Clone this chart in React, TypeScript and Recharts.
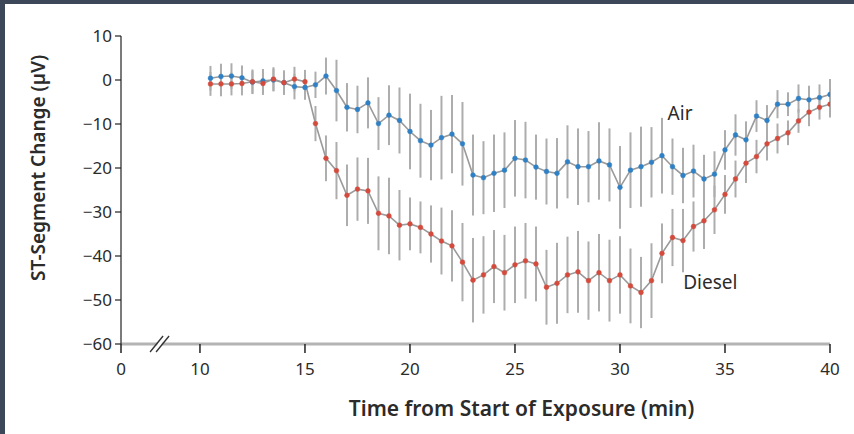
import { LineChart, Line, XAxis, YAxis, ErrorBar, ReferenceDot } from 'recharts';

// minutes from start of exposure, one reading every 30 s
const minutes = [
  10.5, 11, 11.5, 12, 12.5, 13, 13.5, 14, 14.5, 15,
  15.5, 16, 16.5, 17, 17.5, 18, 18.5, 19, 19.5, 20,
  20.5, 21, 21.5, 22, 22.5, 23, 23.5, 24, 24.5, 25,
  25.5, 26, 26.5, 27, 27.5, 28, 28.5, 29, 29.5, 30,
  30.5, 31, 31.5, 32, 32.5, 33, 33.5, 34, 34.5, 35,
  35.5, 36, 36.5, 37, 37.5, 38, 38.5, 39, 39.5, 40,
];

const air = [
  0.4, 0.8, 0.9, 0.5, -0.5, -0.2, 0, -0.6, -1.5, -1.7,
  -1.1, 0.9, -2.4, -6.2, -6.7, -5.2, -9.9, -8.0, -9.2, -11.7,
  -13.8, -14.8, -13.1, -12.3, -14.5, -21.6, -22.2, -21.2, -20.5, -17.8,
  -18.2, -19.8, -20.8, -21.2, -18.6, -19.7, -19.7, -18.4, -19.3, -24.4,
  -20.5, -19.7, -18.7, -17.2, -19.7, -21.7, -20.7, -22.5, -21.4, -15.9,
  -12.5, -13.6, -8.2, -9.2, -5.5, -5.5, -4.2, -4.5, -4.0, -3.3,
];

const diesel = [
  -0.9, -0.9, -0.9, -0.8, -0.4, -0.8, 0.2, -0.6, 0.2, -0.4,
  -9.9, -17.8, -20.6, -26.2, -24.8, -25.2, -30.3, -30.9, -33.0, -32.7,
  -33.5, -35.0, -36.6, -37.7, -41.4, -45.5, -44.3, -42.4, -43.8, -42.0,
  -41.1, -41.8, -47.1, -46.2, -44.3, -43.6, -45.6, -43.8, -45.6, -44.3,
  -46.8, -48.3, -45.6, -39.4, -35.8, -36.5, -33.3, -32.0, -29.5, -26.0,
  -22.5, -18.9, -17.4, -14.5, -13.3, -12.0, -9.3, -7.3, -6.2, -5.5,
];

const airErr = [
  2.8, 2.9, 2.9, 2.8, 2.6, 2.7, 2.6, 2.8, 2.9, 2.8,
  3.0, 4.2, 7.0, 5.5, 5.4, 5.8, 6.0, 6.8, 7.5, 8.6,
  8.4, 8.0, 9.5, 8.9, 9.5, 9.2, 8.3, 8.8, 8.6, 8.7,
  8.7, 7.4, 7.5, 8.0, 8.3, 8.7, 8.1, 8.8, 8.3, 9.4,
  8.6, 9.1, 8.0, 8.6, 6.4, 6.3, 6.0, 5.5, 5.2, 4.5,
  4.7, 4.2, 3.6, 3.5, 3.2, 2.7, 3.2, 3.2, 3.0, 3.5,
];

const dieselErr = [
  2.7, 2.8, 2.6, 2.7, 2.8, 2.6, 2.7, 2.6, 2.8, 2.7,
  4.0, 5.2, 6.5, 7.0, 7.2, 7.5, 8.4, 8.7, 8.0, 6.0,
  5.9, 6.5, 7.6, 8.1, 8.9, 9.6, 8.8, 8.3, 8.6, 8.7,
  8.6, 8.5, 8.5, 9.2, 8.7, 9.3, 8.9, 8.8, 9.3, 8.8,
  8.5, 8.1, 8.5, 6.8, 6.5, 7.2, 5.7, 6.4, 5.5, 4.4,
  4.2, 4.5, 3.8, 3.8, 3.4, 2.8, 2.7, 3.2, 2.8, 3.0,
];

// the axis is broken between 0 and 10 min; 0 is drawn at this position
const ZERO_POS = 6.24;
const xTicks = [ZERO_POS, 10, 15, 20, 25, 30, 35, 40];
const yTicks = [-60, -50, -40, -30, -20, -10, 0, 10];

const data = minutes.map((t, i) => ({
  t, air: air[i], diesel: diesel[i], airErr: airErr[i], dieselErr: dieselErr[i],
}));

const FONT = '"Noto Sans", "Open Sans", sans-serif';
const TEXT = '#2b2b2b';
const LINE = '#9a9a9a';
const BAR = '#adadad';
const BLUE = '#2f80c4';
const RED = '#d44a3c';

const fmtY = (v: number) => (v < 0 ? `\u2212${Math.abs(v)}` : `${v}`);
const fmtX = (v: number) => (v < 10 ? '0' : `${v}`);

function AxisBreak(props: any) {
  const { cx, cy } = props;
  return (
    <g>
      <polygon points={`${cx - 6},${cy + 8} ${cx + 1},${cy - 8} ${cx + 5},${cy - 8} ${cx - 2},${cy + 8}`} fill="#fff" />
      <line x1={cx - 10} y1={cy + 8} x2={cx + 3} y2={cy - 8} stroke="#333" strokeWidth={1.3} />
      <line x1={cx - 4} y1={cy + 8} x2={cx + 9} y2={cy - 8} stroke="#333" strokeWidth={1.3} />
    </g>
  );
}

function YTitle(props: any) {
  const { x, y, height } = props.viewBox;
  const cx = x - 16;
  const cy = y + height / 2 - 22;
  return (
    <text x={cx} y={cy} transform={`rotate(-90, ${cx}, ${cy})`} textAnchor="middle"
      fontFamily={FONT} fontSize={19} fontWeight={600} fill={TEXT}>
      ST-Segment Change (µV)
    </text>
  );
}

// title sits right of the plot centre in the original
function XTitle(props: any) {
  const { x, y, width } = props.viewBox;
  return (
    <text x={x + width / 2 + 46} y={y + 72} textAnchor="middle"
      fontFamily={FONT} fontSize={21} fontWeight={600} fill={TEXT}>
      Time from Start of Exposure (min)
    </text>
  );
}

export default function App() {
  return (
    <div style={{ position: 'absolute', left: 0, top: 0, width: 854, height: 434, background: '#3c475a' }}>
      <div style={{ position: 'absolute', left: 5, top: 4, width: 849, height: 430, background: '#fff' }} />
      <div style={{ position: 'absolute', left: 0, top: 0 }}>
        <LineChart width={854} height={434} data={data}
          margin={{ top: 36, right: 24, left: 61, bottom: 30 }}>
          <XAxis type="number" dataKey="t" domain={[ZERO_POS, 40]} ticks={xTicks} allowDataOverflow
            tickFormatter={fmtX} height={60} tickSize={9} tickMargin={10}
            axisLine={{ stroke: '#b4b4b4', strokeWidth: 3 }} tickLine={{ stroke: '#222', strokeWidth: 1.5 }}
            tick={{ fontFamily: FONT, fontSize: 17, fill: TEXT }}
            label={<XTitle />} />
          <YAxis type="number" domain={[-60, 10]} ticks={yTicks} allowDataOverflow width={60}
            tickFormatter={fmtY} tickSize={6} tickMargin={3}
            axisLine={{ stroke: '#222', strokeWidth: 1.2 }} tickLine={{ stroke: '#222', strokeWidth: 1.2 }}
            tick={{ fontFamily: FONT, fontSize: 17, fill: TEXT }}
            label={<YTitle />} />
          {/* error bars first so they sit under both traces */}
          <Line dataKey="air" stroke="none" dot={false} activeDot={false} isAnimationActive={false}>
            <ErrorBar dataKey="airErr" direction="y" width={0} stroke={BAR} strokeWidth={2} />
          </Line>
          <Line dataKey="diesel" stroke="none" dot={false} activeDot={false} isAnimationActive={false}>
            <ErrorBar dataKey="dieselErr" direction="y" width={0} stroke={BAR} strokeWidth={2} />
          </Line>
          <Line dataKey="air" type="linear" stroke={LINE} strokeWidth={1.6}
            dot={{ r: 2.4, fill: BLUE, stroke: BLUE, strokeWidth: 0.5 }} activeDot={false} isAnimationActive={false} />
          <Line dataKey="diesel" type="linear" stroke={LINE} strokeWidth={1.6}
            dot={{ r: 2.4, fill: RED, stroke: RED, strokeWidth: 0.5 }} activeDot={false} isAnimationActive={false} />
          <ReferenceDot x={8.1} y={-60} r={0} ifOverflow="visible" shape={<AxisBreak />} />
          <ReferenceDot x={32.86} y={-7.5} r={0} ifOverflow="visible"
            label={{ value: 'Air', position: 'center', style: { fontFamily: FONT, fontSize: 19, fill: TEXT } }} />
          <ReferenceDot x={34.3} y={-45.9} r={0} ifOverflow="visible"
            label={{ value: 'Diesel', position: 'center', style: { fontFamily: FONT, fontSize: 19, fill: TEXT } }} />
        </LineChart>
      </div>
    </div>
  );
}
